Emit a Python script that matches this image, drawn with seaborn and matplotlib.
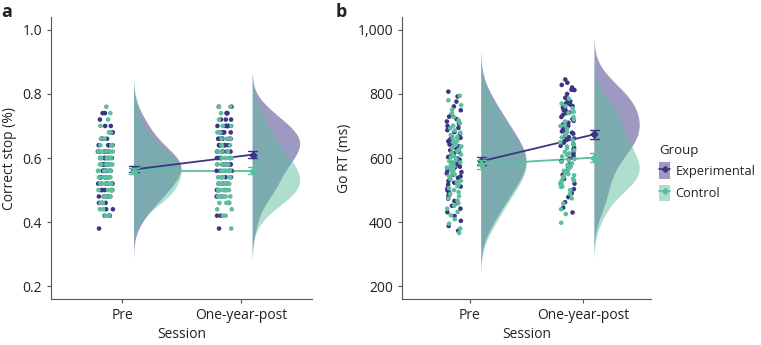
import numpy as np
import pandas as pd
import seaborn as sns
import matplotlib.pyplot as plt
from matplotlib.patches import Patch
from matplotlib.lines import Line2D
from matplotlib.collections import PolyCollection

np.random.seed(7)

sessions = ['Pre', 'One-year-post']
groups = ['Experimental', 'Control']
colors = {'Experimental': '#3C3585', 'Control': '#5CBE9E'}

# panel a: correct stop comes in steps, so read as level + number of dots
stop_levels = [0.38, 0.42, 0.44, 0.46, 0.48, 0.50, 0.52, 0.54, 0.56, 0.58,
               0.60, 0.62, 0.64, 0.66, 0.68, 0.70, 0.72, 0.74, 0.76]
stop_pre_exp = [1, 3, 2, 3, 5, 5, 6, 6, 8, 8, 7, 5, 4, 3, 3, 2, 1, 2, 0]
stop_pre_ctl = [0, 2, 2, 3, 7, 5, 6, 6, 7, 7, 6, 5, 3, 2, 2, 1, 1, 1, 1]
stop_post_exp = [1, 2, 0, 1, 3, 4, 3, 3, 4, 5, 5, 6, 7, 7, 6, 5, 3, 3, 2]
stop_post_ctl = [1, 2, 2, 4, 6, 6, 7, 6, 6, 5, 5, 4, 3, 3, 2, 2, 1, 1, 2]

# panel b: go RT (ms)
rt_pre_exp = [373, 388, 404, 419, 431, 442, 451, 459, 466, 473, 480, 486, 493, 499, 505, 511,
              517, 523, 528, 533, 538, 543, 548, 552, 556, 561, 565, 569, 573, 577, 581, 585,
              588, 592, 595, 599, 603, 607, 611, 615, 619, 624, 628, 632, 637, 642, 647, 652,
              657, 663, 669, 675, 681, 687, 694, 700, 707, 714, 721, 729, 738, 749, 761, 776,
              792, 807]
rt_pre_ctl = [366, 380, 395, 409, 421, 432, 442, 451, 459, 467, 474, 481, 488, 494, 500, 506,
              512, 518, 524, 529, 534, 539, 544, 549, 553, 558, 562, 566, 570, 574, 577, 583,
              586, 590, 594, 598, 602, 607, 611, 616, 621, 626, 631, 636, 642, 648, 654, 660,
              666, 672, 679, 686, 693, 701, 709, 718, 728, 739, 751, 765, 780, 794]
rt_post_exp = [430, 445, 462, 478, 490, 503, 520, 535, 548, 560, 571, 581, 590, 598, 606, 613,
               620, 626, 632, 638, 643, 648, 653, 657, 661, 665, 669, 672, 676, 679, 683, 687,
               691, 695, 700, 705, 710, 716, 722, 728, 735, 740, 742, 748, 750, 755, 758, 762,
               767, 770, 777, 778, 785, 788, 800, 812, 813, 820, 828, 835, 845]
rt_post_ctl = [398, 425, 440, 458, 474, 488, 500, 510, 511, 520, 521, 528, 530, 535, 538, 542,
               546, 550, 553, 556, 560, 566, 572, 578, 583, 588, 593, 597, 605, 609, 614, 619,
               624, 630, 636, 642, 649, 656, 664, 672, 681, 691, 700, 702, 714, 720, 728, 740,
               744, 755, 762, 770, 785]


def long_df(parts):
    rows = []
    for (sess, grp), vals in parts.items():
        for v in vals:
            rows.append({'pos': sessions.index(sess), 'group': grp, 'value': v})
    return pd.DataFrame(rows)


df_a = long_df({
    ('Pre', 'Experimental'): np.repeat(stop_levels, stop_pre_exp),
    ('Pre', 'Control'): np.repeat(stop_levels, stop_pre_ctl),
    ('One-year-post', 'Experimental'): np.repeat(stop_levels, stop_post_exp),
    ('One-year-post', 'Control'): np.repeat(stop_levels, stop_post_ctl),
})
df_b = long_df({
    ('Pre', 'Experimental'): rt_pre_exp,
    ('Pre', 'Control'): rt_pre_ctl,
    ('One-year-post', 'Experimental'): rt_post_exp,
    ('One-year-post', 'Control'): rt_post_ctl,
})

sns.set_style('ticks')
plt.rcParams['font.family'] = ['Open Sans', 'DejaVu Sans']
plt.rcParams['font.size'] = 10
plt.rcParams['text.color'] = '#222222'
plt.rcParams['axes.labelcolor'] = '#222222'
plt.rcParams['xtick.color'] = '#555555'
plt.rcParams['ytick.color'] = '#555555'
plt.rcParams['xtick.labelcolor'] = '#222222'
plt.rcParams['ytick.labelcolor'] = '#222222'


def raincloud(ax, df, ylab, ylim, yticks, ylabels):
    df = df.copy()
    df['x_cloud'] = df['pos'] + 0.1  # half violin + means sit right of the tick
    df['x_rain'] = df['pos'] - 0.14  # dots sit left of the tick

    sns.violinplot(data=df, x='x_cloud', y='value', hue='group', hue_order=groups,
                   palette=colors, native_scale=True, dodge=False, inner=None,
                   density_norm='width', cut=2.4, bw_adjust=1.1, width=0.8,
                   linewidth=0, saturation=1, legend=False, ax=ax)
    # keep only the right half of each violin
    for coll in ax.collections:
        if isinstance(coll, PolyCollection):
            new = []
            for p in coll.get_paths():
                v = p.vertices.copy()
                mid = (v[:, 0].min() + v[:, 0].max()) / 2
                v[:, 0] = np.maximum(v[:, 0], mid)
                new.append(v)
            coll.set_verts(new)
            coll.set_alpha(0.5)
            coll.set_edgecolor('none')

    sns.stripplot(data=df, x='x_rain', y='value', hue='group', hue_order=groups,
                  palette=colors, native_scale=True, dodge=False, jitter=0.065,
                  size=3.3, linewidth=0, legend=False, ax=ax)

    sns.pointplot(data=df, x='x_cloud', y='value', hue='group', hue_order=groups,
                  palette=colors, native_scale=True, dodge=False, errorbar='se',
                  capsize=0.08, markers='D', markersize=3.5, linewidth=1.3,
                  err_kws={'linewidth': 1.0}, legend=False, ax=ax)

    ax.set_xlim(-0.6, 1.6)
    ax.set_xticks([0, 1], sessions)
    ax.set_ylim(*ylim)
    ax.set_yticks(yticks, ylabels)
    ax.set_xlabel('Session', labelpad=3)
    ax.set_ylabel(ylab)
    sns.despine(ax=ax)
    for s in ['left', 'bottom']:
        ax.spines[s].set_color('#555555')
        ax.spines[s].set_linewidth(0.8)
    ax.tick_params(length=3, width=0.8)


fig = plt.figure(figsize=(7.61, 3.45), dpi=100)
ax_a = fig.add_axes([0.067, 0.1333, 0.343, 0.8174])
ax_b = fig.add_axes([0.5283, 0.1333, 0.3272, 0.8174])

raincloud(ax_a, df_a, 'Correct stop (%)', (0.16, 1.04),
          [0.2, 0.4, 0.6, 0.8, 1.0], ['0.2', '0.4', '0.6', '0.8', '1.0'])
raincloud(ax_b, df_b, 'Go RT (ms)', (160, 1040),
          [200, 400, 600, 800, 1000], ['200', '400', '600', '800', '1,000'])

fig.text(0.002, 0.99, 'a', fontsize=13, fontweight='bold', va='top')
fig.text(0.441, 0.99, 'b', fontsize=13, fontweight='bold', va='top')

handles = []
for g in groups:
    handles.append((Patch(facecolor=colors[g], alpha=0.5, edgecolor='none'),
                    Line2D([], [], color=colors[g], marker='D', markersize=3, linewidth=1.2)))
fig.legend(handles, groups, title='Group', loc='center left', bbox_to_anchor=(0.864, 0.5),
           frameon=False, handlelength=0.9, handleheight=1.6, handletextpad=0.4,
           labelspacing=0.45, fontsize=9.3, title_fontsize=9.5, alignment='left',
           borderaxespad=0, borderpad=0.1)

fig.savefig('out.png', dpi=100)
